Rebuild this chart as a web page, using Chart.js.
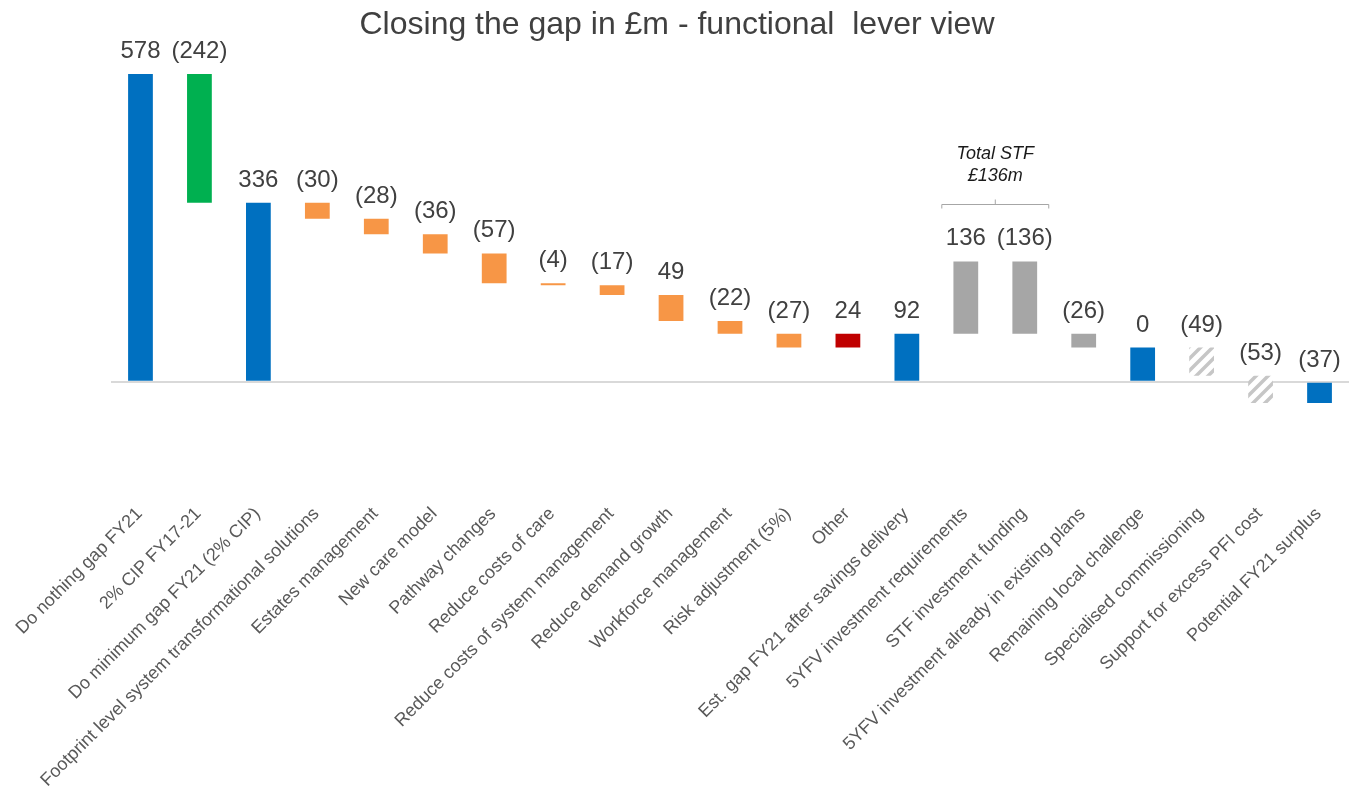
<!DOCTYPE html>
<html>
<head>
<meta charset="utf-8">
<title>Closing the gap in £m - functional lever view</title>
<script src="https://cdn.jsdelivr.net/npm/chart.js@4"></script>
<style>
    html, body { margin: 0; padding: 0; background: #ffffff; }
</style>
</head>
<body>
<canvas id="gap-canvas" width="1349" height="793"></canvas>
<script>
const categories = [
    "Do nothing gap FY21",
    "2% CIP FY17-21",
    "Do minimum gap FY21 (2% CIP)",
    "Footprint level system transformational solutions",
    "Estates management",
    "New care model",
    "Pathway changes",
    "Reduce costs of care",
    "Reduce costs of system management",
    "Reduce demand growth",
    "Workforce management",
    "Risk adjustment (5%)",
    "Other",
    "Est. gap FY21 after savings delivery",
    "5YFV investment requirements",
    "STF investment funding",
    "5YFV investment already in existing plans",
    "Remaining local challenge",
    "Specialised commissioning",
    "Support for excess PFI cost",
    "Potential FY21 surplus"
];

// text printed above each bar
const valueLabels = ["578", "(242)", "336", "(30)", "(28)", "(36)", "(57)", "(4)", "(17)", "49", "(22)",
    "(27)", "24", "92", "136", "(136)", "(26)", "0", "(49)", "(53)", "(37)"];

// floating bars: bottom and top of each step (£m)
const barStart = [0, 336, 0, 306, 277, 241, 185, 181, 163, 114, 90, 64, 64, 0, 90, 90, 64, 0, 11, -40, -40];
const barEnd   = [578, 578, 336, 336, 306, 277, 241, 185, 181, 163, 114, 90, 90, 90, 226, 226, 90, 64, 64, 11, 0];

document.addEventListener("DOMContentLoaded", () => {
    const ctx = document.getElementById('gap-canvas').getContext('2d');
    const font = '"Liberation Sans", Arial, sans-serif';

    function makeHatch() {
        const c = document.createElement('canvas');
        c.width = 12; c.height = 12;
        const g = c.getContext('2d');
        g.fillStyle = '#ffffff';
        g.fillRect(0, 0, 12, 12);
        g.strokeStyle = '#c6c6c6';
        g.lineWidth = 3.5;
        g.beginPath();
        g.moveTo(-6, 6); g.lineTo(6, -6);
        g.moveTo(0, 12); g.lineTo(12, 0);
        g.moveTo(6, 18); g.lineTo(18, 6);
        g.stroke();
        return ctx.createPattern(c, 'repeat');
    }

    const blue = '#0070C0', green = '#00B050', orange = '#F79646',
          red = '#C00000', grey = '#A6A6A6', hatch = makeHatch();
    const barColors = [blue, green, blue, orange, orange, orange, orange, orange, orange, orange, orange,
        orange, red, blue, grey, grey, grey, blue, hatch, hatch, blue];

    const gapLabels = {
        id: 'gapLabels',
        afterDatasetsDraw(chart) {
            const { ctx, scales: { x, y } } = chart;
            const meta = chart.getDatasetMeta(0);
            ctx.save();
            ctx.font = '24px ' + font;
            ctx.fillStyle = '#404040';
            ctx.textAlign = 'center';
            ctx.textBaseline = 'alphabetic';
            meta.data.forEach((bar, i) => {
                const top = Math.min(bar.y, bar.base);
                ctx.fillText(valueLabels[i], bar.x, top - 16);
            });

            // bracket over the two STF bars
            const x1 = x.getPixelForValue(14) - 24;
            const x2 = x.getPixelForValue(15) + 24;
            const xm = (x1 + x2) / 2;
            const by = Math.round(y.getPixelForValue(334)) + 0.5;
            ctx.strokeStyle = '#A6A6A6';
            ctx.lineWidth = 1;
            ctx.beginPath();
            ctx.moveTo(x1, by + 4); ctx.lineTo(x1, by); ctx.lineTo(x2, by); ctx.lineTo(x2, by + 4);
            ctx.moveTo(xm, by); ctx.lineTo(xm, by - 5);
            ctx.stroke();
            ctx.font = 'italic 18px ' + font;
            ctx.fillStyle = '#1a1a1a';
            ctx.fillText('Total STF', xm, by - 46);
            ctx.fillText('£136m', xm, by - 24);
            ctx.restore();
        }
    };

    new Chart(ctx, {
        type: 'bar',
        data: {
            labels: categories,
            datasets: [{
                data: barStart.map((s, i) => [s, barEnd[i]]),
                backgroundColor: barColors,
                borderWidth: 0,
                barPercentage: 0.42,
                categoryPercentage: 1
            }]
        },
        options: {
            responsive: false,
            animation: false,
            layout: { padding: { left: 0, right: -5, top: 0, bottom: 0 } },
            scales: {
                x: {
                    offset: true,
                    grid: { display: false, drawTicks: false },
                    border: { display: false },
                    ticks: {
                        autoSkip: false,
                        minRotation: 45,
                        maxRotation: 45,
                        labelOffset: -1,
                        padding: 2,
                        color: '#595959',
                        font: { size: 18, family: font }
                    }
                },
                y: {
                    min: -225,
                    max: 600,
                    afterFit: (scale) => { scale.width = 111; },
                    ticks: { display: false, stepSize: 25 },
                    grid: {
                        drawTicks: false,
                        color: (c) => c.tick.value === 0 ? '#D9D9D9' : 'rgba(0,0,0,0)',
                        lineWidth: (c) => c.tick.value === 0 ? 2 : 0
                    },
                    border: { display: false }
                }
            },
            plugins: {
                legend: { display: false },
                tooltip: { enabled: false },
                title: {
                    display: true,
                    text: 'Closing the gap in £m - functional  lever view',
                    color: '#404040',
                    font: { size: 32, weight: 'normal', family: font },
                    padding: { top: 6, bottom: 18 }
                }
            }
        },
        plugins: [gapLabels]
    });
});
</script>
</body>
</html>
